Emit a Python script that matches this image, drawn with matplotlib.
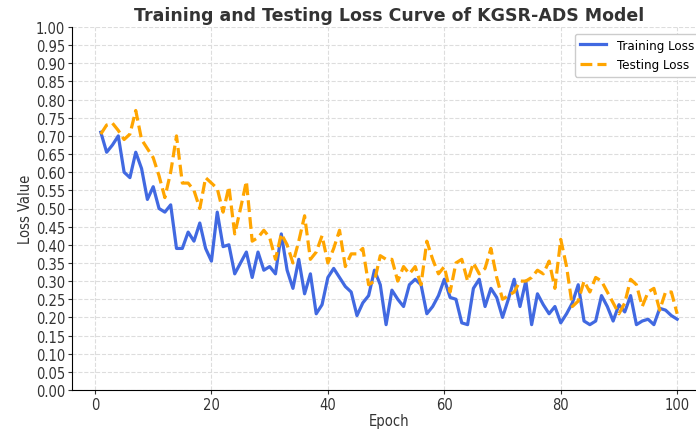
import numpy as np
import matplotlib
matplotlib.use("Agg")
import matplotlib.pyplot as plt

epochs = np.arange(1, 101)

train_loss = [
    0.71, 0.655, 0.675, 0.70, 0.60, 0.585, 0.655, 0.61, 0.525, 0.56,
    0.50, 0.49, 0.51, 0.39, 0.39, 0.435, 0.41, 0.46, 0.39, 0.355,
    0.49, 0.395, 0.40, 0.32, 0.35, 0.38, 0.31, 0.38, 0.33, 0.34,
    0.32, 0.43, 0.33, 0.28, 0.36, 0.265, 0.32, 0.21, 0.235, 0.31,
    0.335, 0.31, 0.285, 0.27, 0.205, 0.24, 0.26, 0.33, 0.29, 0.18,
    0.275, 0.25, 0.23, 0.29, 0.305, 0.29, 0.21, 0.23, 0.26, 0.305,
    0.255, 0.25, 0.185, 0.18, 0.28, 0.305, 0.23, 0.28, 0.255, 0.20,
    0.25, 0.305, 0.23, 0.30, 0.18, 0.265, 0.235, 0.21, 0.23, 0.185,
    0.21, 0.24, 0.29, 0.19, 0.18, 0.19, 0.26, 0.23, 0.19, 0.235,
    0.215, 0.26, 0.18, 0.19, 0.195, 0.18, 0.225, 0.22, 0.205, 0.195,
]

test_loss = [
    0.705, 0.73, 0.735, 0.715, 0.69, 0.705, 0.77, 0.69, 0.665, 0.64,
    0.59, 0.53, 0.60, 0.70, 0.57, 0.57, 0.55, 0.50, 0.585, 0.57,
    0.555, 0.49, 0.56, 0.43, 0.50, 0.575, 0.41, 0.42, 0.44, 0.42,
    0.36, 0.43, 0.40, 0.35, 0.41, 0.48, 0.36, 0.38, 0.425, 0.35,
    0.39, 0.44, 0.34, 0.375, 0.375, 0.39, 0.29, 0.30, 0.37, 0.36,
    0.36, 0.30, 0.34, 0.32, 0.34, 0.29, 0.41, 0.36, 0.32, 0.34,
    0.27, 0.35, 0.36, 0.30, 0.35, 0.32, 0.335, 0.39, 0.31, 0.25,
    0.26, 0.27, 0.30, 0.30, 0.31, 0.33, 0.32, 0.355, 0.28, 0.415,
    0.34, 0.23, 0.245, 0.30, 0.27, 0.31, 0.30, 0.27, 0.24, 0.21,
    0.24, 0.305, 0.29, 0.23, 0.27, 0.28, 0.22, 0.27, 0.27, 0.21,
]

y_ticks = np.arange(0, 1.0001, 0.05)

plt.rcParams["font.family"] = ["DejaVu Sans"]
plt.rcParams["font.stretch"] = "condensed"

fig = plt.figure(figsize=(6.96, 4.31), dpi=100)
# the reference is cropped on the right, so the axes run past the figure edge
ax = fig.add_axes([72 / 696, 40 / 431, 634 / 696, 363 / 431])

ax.plot(epochs, train_loss, color="#4169E1", lw=2.3, label="Training Loss")
ax.plot(epochs, test_loss, color="#FFA500", lw=2.3, ls="--", label="Testing Loss")

ax.set_ylim(0, 1)
ax.set_yticks(y_ticks)
ax.set_yticklabels([f"{v:.2f}" for v in y_ticks])
ax.set_xticks([0, 20, 40, 60, 80, 100])
ax.tick_params(labelsize=10.5, colors="#333333", length=3, pad=2)

ax.grid(True, ls="--", color="#dddddd", lw=0.8)
ax.spines["top"].set_visible(False)
ax.spines["right"].set_visible(False)

ax.set_title("Training and Testing Loss Curve of KGSR-ADS Model",
             fontsize=12.5, fontweight="bold", fontstretch="normal",
             color="#333333", pad=5)
ax.set_xlabel("Epoch", fontsize=10.5, color="#333333", labelpad=1)
ax.set_ylabel("Loss Value", fontsize=10.5, color="#333333", labelpad=2)
ax.legend(loc="upper right", fontsize=9.5, framealpha=1)

fig.savefig("out.png", dpi=100)
